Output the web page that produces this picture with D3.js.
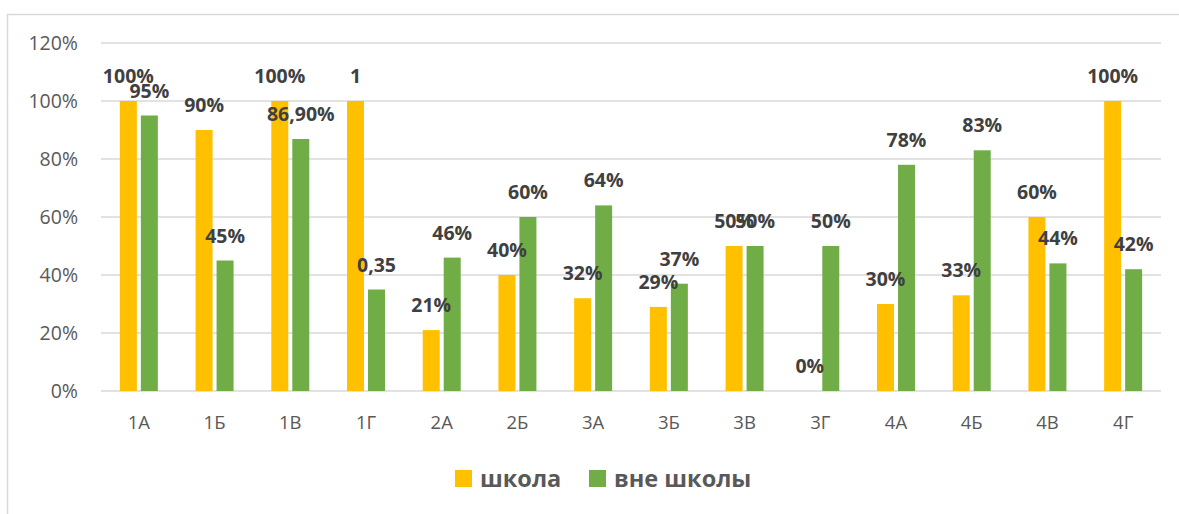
<!DOCTYPE html>
<html>
<head>
<meta charset="utf-8">
<script src="https://cdn.jsdelivr.net/npm/d3@7"></script>
<style>
  body { margin:0; background:#fff; }
  text { font-family:"Open Sans", sans-serif; }
</style>
</head>
<body>
<script>

// classes along the x axis
var classes = ["1А","1Б","1В","1Г","2А","2Б","3А","3Б","3В","3Г","4А","4Б","4В","4Г"];

// series
var seriesNames = ["школа","вне школы"];
var school  = [1.00,0.90,1.00,1.00,0.21,0.40,0.32,0.29,0.50,0.00,0.30,0.33,0.60,1.00];
var outside = [0.95,0.45,0.869,0.35,0.46,0.60,0.64,0.37,0.50,0.50,0.78,0.83,0.44,0.42];

// labels as they are written on the chart
var schoolLabels  = ["100%","90%","100%","1","21%","40%","32%","29%","50%","0%","30%","33%","60%","100%"];
var outsideLabels = ["95%","45%","86,90%","0,35","46%","60%","64%","37%","50%","50%","78%","83%","44%","42%"];

var yTicks = [0,0.2,0.4,0.6,0.8,1.0,1.2];

var colors = ["#FFC000","#70AD47"];

var width = 1179, height = 514;

var svg = d3.select("body")
    .append("svg")
    .attr("width",width)
    .attr("height",height);

// chart frame
svg.append("rect")
   .attr("x",7.5)
   .attr("y",14.5)
   .attr("width",1190)
   .attr("height",520)
   .attr("fill","none")
   .attr("stroke","#d9d9d9")
   .attr("stroke-width",1.5);

var plotLeft = 101, plotRight = 1161;

var xScale = d3.scaleBand()
    .domain(classes)
    .range([plotLeft,plotRight]);

var xInner = d3.scaleBand()
    .domain(seriesNames)
    .range([-19,19])
    .paddingInner(4/21);

var yScale = d3.scaleLinear()
    .domain([0,1.2])
    .range([391,43]);

// gridlines
svg.append("g")
   .selectAll("line")
   .data(yTicks)
   .enter()
   .append("line")
   .attr("x1",plotLeft)
   .attr("x2",plotRight)
   .attr("y1",function(d){return yScale(d);})
   .attr("y2",function(d){return yScale(d);})
   .attr("stroke","#d9d9d9")
   .attr("stroke-width",1.5);

// y axis labels
var yAxis = d3.axisLeft(yScale)
    .tickValues(yTicks)
    .tickFormat(d3.format(".0%"))
    .tickSize(0)
    .tickPadding(0);

var yG = svg.append("g")
   .attr("transform","translate(78,0)")
   .call(yAxis);
yG.select(".domain").remove();
yG.selectAll("text")
  .attr("font-family","Open Sans")
  .attr("font-size",19.5)
  .attr("fill","#595959");

// x axis labels
var xAxis = d3.axisBottom(xScale).tickSize(0).tickPadding(0);
var xG = svg.append("g")
   .attr("transform","translate(0,416)")
   .call(xAxis);
xG.select(".domain").remove();
xG.selectAll("text")
  .attr("font-family","Open Sans")
  .attr("font-size",18.5)
  .attr("fill","#595959");

// one group per class
var rows = classes.map(function(c,i){
  return {name:c, values:[
    {series:seriesNames[0], value:school[i],  label:schoolLabels[i],  color:colors[0]},
    {series:seriesNames[1], value:outside[i], label:outsideLabels[i], color:colors[1]}
  ]};
});

var groups = svg.append("g")
   .selectAll("g")
   .data(rows)
   .enter()
   .append("g")
   .attr("transform",function(d){return "translate("+(xScale(d.name)+xScale.bandwidth()/2)+",0)";});

groups.selectAll("rect")
   .data(function(d){return d.values;})
   .enter()
   .append("rect")
   .attr("x",function(d){return xInner(d.series);})
   .attr("width",xInner.bandwidth())
   .attr("y",function(d){return yScale(d.value);})
   .attr("height",function(d){return yScale(0)-yScale(d.value);})
   .attr("fill",function(d){return d.color;});

groups.selectAll("text")
   .data(function(d){return d.values;})
   .enter()
   .append("text")
   .attr("x",function(d){return xInner(d.series)+xInner.bandwidth()/2;})
   .attr("y",function(d){return yScale(d.value)-18;})
   .attr("text-anchor","middle")
   .attr("font-size",19.5)
   .attr("font-weight","bold")
   .attr("fill","#404040")
   .text(function(d){return d.label;});

// legend
var legendX = [455,589];
var legend = svg.append("g");
var legendItems = legend.selectAll("g")
   .data(seriesNames)
   .enter()
   .append("g")
   .attr("transform",function(d,i){return "translate("+legendX[i]+",470)";});

legendItems.append("rect")
   .attr("width",17)
   .attr("height",17)
   .attr("fill",function(d,i){return colors[i];});

legendItems.append("text")
   .attr("x",25)
   .attr("y",17)
   .attr("font-size",23.5)
   .attr("font-weight","bold")
   .attr("fill","#595959")
   .text(function(d){return d;});

</script>
</body>
</html>
